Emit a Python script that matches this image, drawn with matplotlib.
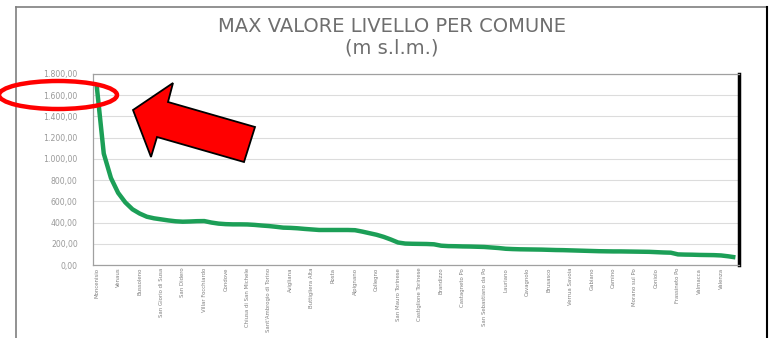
import matplotlib
matplotlib.use("Agg")
import matplotlib.pyplot as plt
from matplotlib.patches import Ellipse, Polygon
from matplotlib.lines import Line2D
from matplotlib.ticker import FuncFormatter

# max level (m s.l.m.) per comune, sorted descending
livello = [1700, 1050, 820, 680, 590, 525, 485, 455, 440, 430,
           420, 412, 408, 410, 413, 414, 400, 390, 385, 383,
           383, 382, 378, 372, 367, 360, 352, 350, 346, 340,
           335, 330, 330, 330, 330, 330, 328, 315, 300, 285,
           265, 240, 212, 202, 200, 199, 198, 195, 182, 178,
           177, 175, 174, 172, 170, 165, 160, 153, 150, 148,
           147, 146, 145, 143, 141, 140, 138, 136, 134, 132,
           130, 129, 128, 128, 127, 126, 125, 124, 121, 118,
           116, 100, 98, 97, 95, 94, 93, 90, 82, 72]

# only every third comune gets a label on the axis
comuni_label = ["Moncenisio", "Venaus", "Bussoleno", "San Giorio di Susa", "San Didero",
                "Villar Focchiardo", "Condove", "Chiusa di San Michele",
                "Sant'Ambrogio di Torino", "Avigliana", "Buttigliera Alta", "Rosta",
                "Alpignano", "Collegno", "San Mauro Torinese", "Castiglione Torinese",
                "Brandizzo", "Castagneto Po", "San Sebastiano da Po", "Lauriano",
                "Cavagnolo", "Brusasco", "Verrua Savoia", "Gabiano", "Camino",
                "Morano sul Po", "Coniolo", "Frassineto Po", "Valmacca", "Valenza"]
label_step = 3

y_ticks = list(range(0, 1801, 200))

fig = plt.figure(figsize=(7.7, 3.38), dpi=100)
W, H = 770, 338

def fx(px):
    return px / W

def fy(py):
    return 1 - py / H

ax = fig.add_axes([fx(93), fy(265), fx(739) - fx(93), fy(74) - fy(265)])

x = list(range(len(livello)))
ax.plot(x, livello, color="#1c9f57", lw=3.2, solid_capstyle="butt", zorder=3)

ax.set_xlim(-0.5, len(livello) - 0.5)
ax.set_ylim(0, 1800)
ax.set_yticks(y_ticks)
ax.yaxis.set_major_formatter(FuncFormatter(
    lambda v, p: f"{v:,.2f}".replace(",", "X").replace(".", ",").replace("X", ".")))
ax.set_xticks(x[::label_step])
ax.set_xticklabels(comuni_label, rotation=90, fontsize=3.9, color="#808080")
ax.tick_params(axis="y", length=0, pad=11, labelsize=5.6, labelcolor="#999999")
ax.tick_params(axis="x", length=0, pad=2)

ax.grid(axis="y", color="#dcdcdc", lw=0.8)
ax.set_axisbelow(True)
for side in ["left", "top", "bottom"]:
    ax.spines[side].set_color("#a0a0a0")
    ax.spines[side].set_linewidth(0.9)
ax.spines["right"].set_color("black")
ax.spines["right"].set_linewidth(2.5)

fig.text(fx(392), fy(26), "MAX VALORE LIVELLO PER COMUNE", ha="center", va="center",
         fontsize=14, color="#6e6e6e")
fig.text(fx(392), fy(48), "(m s.l.m.)", ha="center", va="center",
         fontsize=14, color="#6e6e6e")

# outer chart frame
fig.add_artist(Line2D([fx(16), fx(16)], [fy(7), 0], color="#7f7f7f", lw=1.2))
fig.add_artist(Line2D([fx(16), fx(767)], [fy(7), fy(7)], color="#7f7f7f", lw=1.2))
fig.add_artist(Line2D([fx(767), fx(767)], [fy(7), 0], color="black", lw=1.5))

# highlight: red ellipse and arrow
fig.add_artist(Ellipse((fx(58), fy(95)), fx(118), 28 / H, fill=False,
                       edgecolor="#ff0000", lw=3.2, transform=fig.transFigure, zorder=5))
arrow_px = [(133, 110), (173, 83), (168, 102), (255, 127), (244, 162),
            (157, 137), (151, 157)]
fig.add_artist(Polygon([(fx(a), fy(b)) for a, b in arrow_px], closed=True,
                       facecolor="#ff0000", edgecolor="black", lw=1.3,
                       transform=fig.transFigure, zorder=5))

fig.savefig("out.png", dpi=100)
